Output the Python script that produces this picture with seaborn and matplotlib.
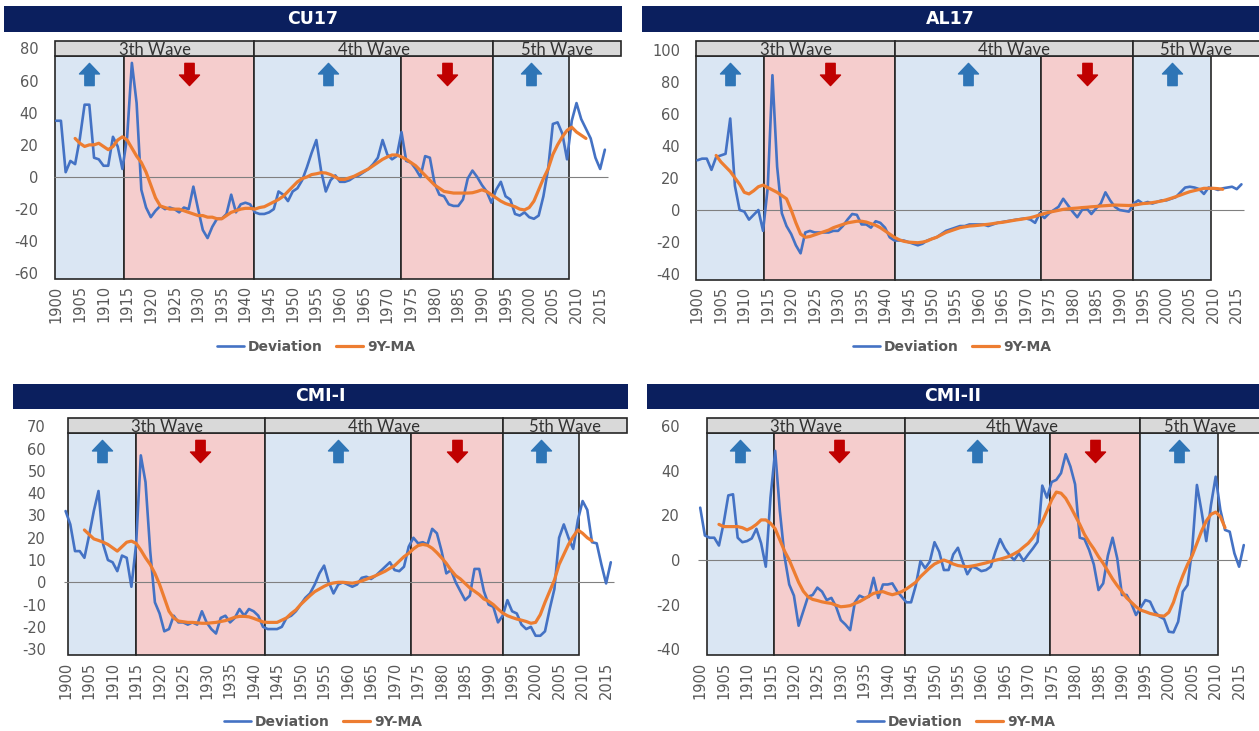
import matplotlib
matplotlib.use("Agg")
import matplotlib.pyplot as plt
import seaborn as sns
from matplotlib.patches import Rectangle
from matplotlib.path import Path

# ---------------------------------------------------------------- data
YEARS = list(range(1900, 2017))
MA_YEARS = list(range(1904, 2013))
TICK_YEARS = list(range(1900, 2016, 5))
WAVE_LABELS = ["3th Wave", "4th Wave", "5th Wave"]
SERIES_LABELS = ["Deviation", "9Y-MA"]
TITLES = ["CU17", "AL17", "CMI-I", "CMI-II"]

CU17_DEV = [
    35, 35, 3, 10, 8, 24, 45, 45, 12, 11,
    7, 7, 25, 19, 5, 25, 71, 46, -8, -19,
    -25, -21, -18, -20, -19, -20, -22, -19, -20, -6,
    -20, -33, -38, -31, -26, -26, -23, -11, -22, -17,
    -16, -17, -22, -23, -23, -22, -20, -9, -11, -15,
    -9, -7, -2, 6, 15, 23, 4, -9, -2, 1,
    -3, -3, -2, 0, 1, 3, 5, 8, 12, 23,
    14, 11, 13, 28, 10, 9, 5, 0, 13, 12,
    -4, -11, -12, -17, -18, -18, -14, -1, 4, 0,
    -5, -9, -16, -8, -3, -12, -14, -23, -24, -22,
    -25, -26, -24, -12, 5, 33, 34, 27, 11, 35,
    46, 36, 30, 24, 12, 5, 17,
]
CU17_MA = [
    24, 21, 19, 20, 20, 21,
    19, 17, 19, 23, 25, 23, 18, 13, 9, 3,
    -5, -13, -18, -19, -20, -20, -20, -21, -22, -23,
    -24, -24, -25, -25, -26, -26, -24, -22, -21, -20,
    -19.5, -19.5, -20, -19, -18.5, -17, -15.5, -14, -12, -9,
    -6, -3, -1, 0, 1.5, 2, 2.7, 2.5, 1.5, 0,
    -1.5, -1.5, -0.5, 0.5, 2, 3.5, 5, 7, 9, 11,
    12.5, 13.7, 13.7, 12.5, 11, 9, 7, 4, 1, -2,
    -5, -7, -9, -9.5, -10, -10, -10, -10, -9.8, -9,
    -8, -9, -11, -13, -15, -16.5, -17.5, -18.5, -20, -20.5,
    -19, -15, -8, -1, 5, 14, 20, 25, 29, 31,
    28, 26, 24,
]

AL17_DEV = [
    31, 32, 32, 25, 33, 34, 35, 57, 15, 0,
    -1, -6, -3, 0, -13, 14, 84, 27, -2, -10,
    -15, -22, -27, -14, -13, -14, -14, -14, -14, -13,
    -13, -10, -6, -2.5, -3, -9, -9, -11, -7, -8,
    -11, -17, -19, -19, -19, -20, -21, -22, -21, -19,
    -18, -17, -15, -13, -12, -11, -10, -10, -9, -9,
    -9, -9, -10, -9, -8, -7.5, -7, -6.5, -6, -5.6,
    -5.2, -6, -8, -2, -5, -2, 0, 2, 7, 3,
    -1, -4.5, 0, 1, -2.5, 1, 4, 11, 6, 2,
    0, -0.5, -1, 4, 6, 4, 5, 4, 5, 6,
    6, 7, 8, 11, 14, 14.5, 14, 13, 10, 14,
    13.5, 12.5, 13.5, 14, 14.5, 13, 16,
]
AL17_MA = [
    34, 30, 27, 24, 20, 16,
    11, 10, 12, 14.5, 15.5, 14, 12.5, 11, 9, 7,
    0, -8, -15, -17, -16.5, -15.5, -14.5, -13.5, -12.5, -11,
    -10, -9, -8, -7.5, -7, -7, -7.5, -8.5, -9.5, -11,
    -13, -15, -17, -18.5, -19.5, -20, -20.2, -20.4, -20, -19.3,
    -18, -17, -15.5, -14, -13, -12, -11, -10.5, -10, -9.8,
    -9.5, -9.2, -8.9, -8.5, -8, -7.7, -7.2, -6.7, -6.2, -5.8,
    -5.3, -4.8, -4, -3, -2.2, -1.4, -0.8, -0.2, 0.4, 0.7,
    1, 1.2, 1.5, 1.7, 2, 2.2, 2.5, 2.7, 2.9, 3.1,
    3, 2.9, 2.8, 3, 3.5, 4, 4.2, 4.6, 5.1, 5.6,
    6.4, 7.3, 8.3, 9.3, 10.4, 11.4, 12.1, 12.8, 13.5, 13.5,
    13.5, 13.3, 12.9,
]

CMI1_DEV = [
    32, 26, 14, 14, 11, 21, 32, 41, 17, 10,
    9, 5, 12, 11, -2, 17, 57, 45, 14, -9,
    -14, -22, -21, -15, -18, -18, -19, -18, -19, -13,
    -18, -21, -23, -16, -15, -18, -16, -12, -15, -12,
    -13, -15, -20, -21, -21, -21, -20, -16, -15, -13,
    -10, -7, -5, -1, 4, 7.5, 0, -5, -1, 0,
    -1, -2, -1, 2, 2.5, 1.5, 3, 5, 7, 9,
    5.5, 5, 7, 16, 20, 17.5, 18, 17, 24, 22,
    14, 4, 5.5, 0, -4, -8, -6, 6, 6, -4,
    -10, -11, -18, -15, -8, -13, -14, -19, -21, -20,
    -24, -24, -22, -12, -3, 20, 26, 20, 15, 28,
    36.5, 32.5, 18, 17.5, 8, -0.5, 9,
]
CMI1_MA = [
    23.5, 21.5, 19.5, 18.8, 18, 17,
    15.5, 14, 16, 18, 18.5, 17.5, 14.5, 11, 8, 4,
    -1, -7, -13, -16, -17.4, -17.7, -18, -18, -18.2, -18.4,
    -18.4, -18.2, -18, -17.6, -17.2, -16.5, -15.7, -15.3, -15.3, -15.5,
    -16.2, -17, -17.8, -18, -18, -18, -17, -16, -14, -12.4,
    -10, -8, -6, -4.2, -3, -1.8, -0.8, -0.3, 0, 0,
    -0.2, -0.4, 0, 0.6, 1.4, 2.2, 3, 4, 5, 6.3,
    7.5, 9.5, 11.5, 13, 15, 16.5, 17, 16.6, 15.3, 13.3,
    11, 8.5, 5.5, 3, 1.5, -0.5, -2.5, -4, -5.5, -7.5,
    -8.5, -10, -12, -13.8, -15, -15.8, -16.5, -17, -17.6, -18.4,
    -18, -14.5, -9, -4, 1, 8, 12.5, 17, 20.5, 23.5,
    22, 20, 18.6,
]

CMI2_DEV = [
    23.5, 11, 10, 10, 6.5, 16.5, 29, 29.5, 10, 8,
    8.5, 9.7, 14, 7.5, -3, 28, 49, 22, 1.5, -11,
    -16, -29.5, -23, -16.5, -15.7, -12.4, -14.2, -18, -17, -21,
    -27, -29, -31.5, -19, -16, -17, -16.5, -8, -17, -11,
    -11, -10.5, -14, -16.5, -19, -19, -11.5, -0.5, -3.7, -0.7,
    8, 3.7, -4.5, -4.5, 2.5, 5.5, -0.7, -6.4, -3, -3.7,
    -5, -4.5, -3, 3.7, 9.4, 5.2, 2.2, 0, 3, -0.4,
    2.5, 5.2, 8.2, 33.4, 28, 35, 36, 39, 47.5, 42,
    34, 10, 9.4, 4.5, -2, -13.5, -10.5, 2, 10, 0.7,
    -15.7, -15.7, -19.5, -24.7, -21.4, -18, -18.7, -23.2, -25.4, -26.5,
    -32.2, -32.5, -27.7, -14.2, -11.2, 5.2, 33.7, 21.7, 8.5, 24.7,
    37.4, 22.5, 13.5, 12.7, 3, -3, 6.7,
]
CMI2_MA = [
    16, 15, 15, 15, 15, 14.5,
    13.5, 14.5, 16, 18, 18, 16.5, 14, 9, 4, 0,
    -5, -10, -14, -16.5, -17.7, -18.2, -18.8, -19.2, -19.5, -20.3,
    -21, -20.8, -20.5, -19.5, -18.7, -17.5, -16.2, -15, -14.5, -14.2,
    -15, -15.6, -15, -14.2, -13, -11.5, -10, -7.5, -5.5, -3.5,
    -1.8, -0.8, 0, -0.8, -1.8, -2.5, -2.8, -3, -2.7, -2.3,
    -1.8, -1.3, -0.7, -0.1, 0.4, 1, 1.7, 2.8, 4, 5.8,
    7.5, 10, 13.5, 17.2, 22, 27, 30.5, 30, 27.7, 24,
    20, 16, 11.5, 8, 5, 1.5, -1.5, -5, -8.5, -11.5,
    -14.2, -17, -19, -21, -22.5, -23.2, -24, -24.5, -25, -25.2,
    -23.5, -19, -12.5, -7, -2, 2, 7.5, 13, 17.5, 20.5,
    21.5, 19.5, 14.5,
]

# ---------------------------------------------------------------- style
sns.set_style("white")
plt.rcParams["font.family"] = ["DejaVu Sans"]

W, H = 1259, 731
DEV_COLOR = "#4472C4"
MA_COLOR = "#ED7D31"
UP_BAND = "#DAE6F3"
DOWN_BAND = "#F5CDCD"
UP_ARROW = "#2E75B6"
DOWN_ARROW = "#C00000"
HEADER_FILL = "#D9D9D9"
EDGE = "#262626"
NAVY = "#0B1F5E"
TEXT_GREY = "#595959"

# arrow glyphs used as markers
UP_PATH = Path([(0, 1), (-0.9, 0.05), (-0.42, 0.05), (-0.42, -1), (0.42, -1),
                (0.42, 0.05), (0.9, 0.05), (0, 1)], closed=True)
DOWN_PATH = Path([(x, -y) for x, y in UP_PATH.vertices], closed=True)

# panel geometry (figure pixels) and wave boundaries (years)
PANELS = [
    dict(title=TITLES[0], dev=CU17_DEV, ma=CU17_MA,
         bar=(4, 6, 622, 32), px1900=56.2, ppy=4.73, zero=177.0, ppu=1.607,
         top=41.0, hdr=56.0, bot=279.0, label_right=38.3,
         bands=[1899.75, 1914.3, 1941.9, 1972.9, 1992.3, 2008.5],
         waves=[1899.75, 1941.9, 1992.3, 2019.35],
         yticks=list(range(-60, 81, 20)), legend=(316, 347)),
    dict(title=TITLES[1], dev=AL17_DEV, ma=AL17_MA,
         bar=(642, 6, 1262, 32), px1900=697.4, ppy=4.69, zero=210.0, ppu=1.605,
         top=41.0, hdr=56.0, bot=279.5, label_right=680.0,
         bands=[1899.77, 1914.3, 1942.2, 1973.3, 1992.8, 2009.5],
         waves=[1899.77, 1942.2, 1992.8, 2019.9],
         yticks=list(range(-40, 101, 20)), legend=(952, 347)),
    dict(title=TITLES[2], dev=CMI1_DEV, ma=CMI1_MA,
         bar=(13, 384, 628, 409), px1900=65.6, ppy=4.70, zero=582.3, ppu=2.227,
         top=418.3, hdr=433.3, bot=655.3, label_right=46.0,
         bands=[1900.45, 1914.9, 1942.5, 1973.5, 1993.0, 2009.3],
         waves=[1900.45, 1942.5, 1993.0, 2019.4],
         yticks=list(range(-30, 71, 10)), legend=(323, 722)),
    dict(title=TITLES[3], dev=CMI2_DEV, ma=CMI2_MA,
         bar=(647, 384, 1262, 409), px1900=700.2, ppy=4.686, zero=560.0, ppu=2.227,
         top=418.3, hdr=433.3, bot=655.3, label_right=680.0,
         bands=[1901.5, 1915.7, 1943.6, 1974.7, 1993.9, 2010.4],
         waves=[1901.5, 1943.6, 1993.9, 2019.5],
         yticks=list(range(-40, 61, 20)), legend=(956, 722)),
]

fig = plt.figure(figsize=(W / 100, H / 100), dpi=100)


def fx(px):
    return px / W


def fy(py):
    return 1 - py / H


for p in PANELS:
    # navy title strip
    x0b, y0b, x1b, y1b = p["bar"]
    fig.add_artist(Rectangle((fx(x0b), fy(y1b)), (x1b - x0b) / W, (y1b - y0b) / H,
                             transform=fig.transFigure, facecolor=NAVY,
                             edgecolor="none", zorder=0))
    fig.text(fx((x0b + min(x1b, W)) / 2), fy((y0b + y1b) / 2), p["title"],
             color="white", fontsize=12.5, fontweight="bold", ha="center", va="center")

    # axes placed so that years / values land on the right pixels
    xmin, xmax = 1899.4, p["waves"][-1]
    left_px = p["px1900"] + (xmin - 1900) * p["ppy"]
    width_px = (xmax - xmin) * p["ppy"]
    ax = fig.add_axes([fx(left_px), fy(p["bot"]), width_px / W, (p["bot"] - p["top"]) / H])
    ax.set_facecolor("none")
    ax.set_xlim(xmin, xmax)
    ax.set_ylim((p["zero"] - p["bot"]) / p["ppu"], (p["zero"] - p["top"]) / p["ppu"])
    for s in ax.spines.values():
        s.set_visible(False)

    trans = ax.get_xaxis_transform()
    hdr_frac = (p["bot"] - p["hdr"]) / (p["bot"] - p["top"])

    # up / down phase shading
    edges = p["bands"]
    for i in range(len(edges) - 1):
        col = UP_BAND if i % 2 == 0 else DOWN_BAND
        ax.add_patch(Rectangle((edges[i], 0), edges[i + 1] - edges[i], hdr_frac,
                               transform=trans, facecolor=col, edgecolor=EDGE,
                               linewidth=1.2, zorder=0, clip_on=False))

    # wave header strip
    wv = p["waves"]
    for i in range(len(wv) - 1):
        ax.add_patch(Rectangle((wv[i], hdr_frac), wv[i + 1] - wv[i], 1 - hdr_frac,
                               transform=trans, facecolor=HEADER_FILL, edgecolor=EDGE,
                               linewidth=1.2, zorder=5, clip_on=False))
        ax.text((wv[i] + wv[i + 1]) / 2, hdr_frac + 0.004, WAVE_LABELS[i],
                transform=trans, ha="center", va="baseline", fontsize=12,
                family="Lato", color="#333333", zorder=6)

    # phase arrows
    arrow_frac = (p["bot"] - (p["hdr"] + 18)) / (p["bot"] - p["top"])
    centers = [(edges[i] + edges[i + 1]) / 2 for i in range(len(edges) - 1)]
    ax.plot(centers[0::2], [arrow_frac] * len(centers[0::2]), transform=trans,
            linestyle="none", marker=UP_PATH, markersize=16,
            color=UP_ARROW, zorder=6, clip_on=False)
    ax.plot(centers[1::2], [arrow_frac] * len(centers[1::2]), transform=trans,
            linestyle="none", marker=DOWN_PATH, markersize=16,
            color=DOWN_ARROW, zorder=6, clip_on=False)

    # zero reference line
    ax.hlines(0, 1899.6, 2016.6, color="#808080", linewidth=0.8, zorder=1)

    # series
    sns.lineplot(x=YEARS, y=p["dev"], ax=ax, color=DEV_COLOR, linewidth=1.9,
                 label=SERIES_LABELS[0], zorder=3)
    sns.lineplot(x=MA_YEARS, y=p["ma"], ax=ax, color=MA_COLOR, linewidth=2.3,
                 label=SERIES_LABELS[1], zorder=4)
    handles, labels = ax.get_legend_handles_labels()
    if ax.get_legend() is not None:
        ax.get_legend().remove()

    # axes ticks
    ax.set_yticks(p["yticks"])
    ax.set_yticklabels([str(t) for t in p["yticks"]])
    ax.set_xticks(TICK_YEARS)
    ax.set_xticklabels([str(t) for t in TICK_YEARS], rotation=90)
    pad_pt = (left_px - p["label_right"]) * 0.72
    ax.tick_params(axis="y", length=0, pad=pad_pt, labelsize=10.5, labelcolor=TEXT_GREY)
    ax.tick_params(axis="x", length=0, pad=4.5, labelsize=10.5, labelcolor=TEXT_GREY)
    ax.set_xlabel("")
    ax.set_ylabel("")
    ax.grid(False)

    fig.legend(handles, labels, loc="center",
               bbox_to_anchor=(fx(p["legend"][0]), fy(p["legend"][1])),
               ncol=2, frameon=False, handlelength=1.95, handletextpad=0.25,
               columnspacing=1.0, prop={"weight": "bold", "size": 10},
               labelcolor=TEXT_GREY)

fig.savefig("out.png", dpi=100)
